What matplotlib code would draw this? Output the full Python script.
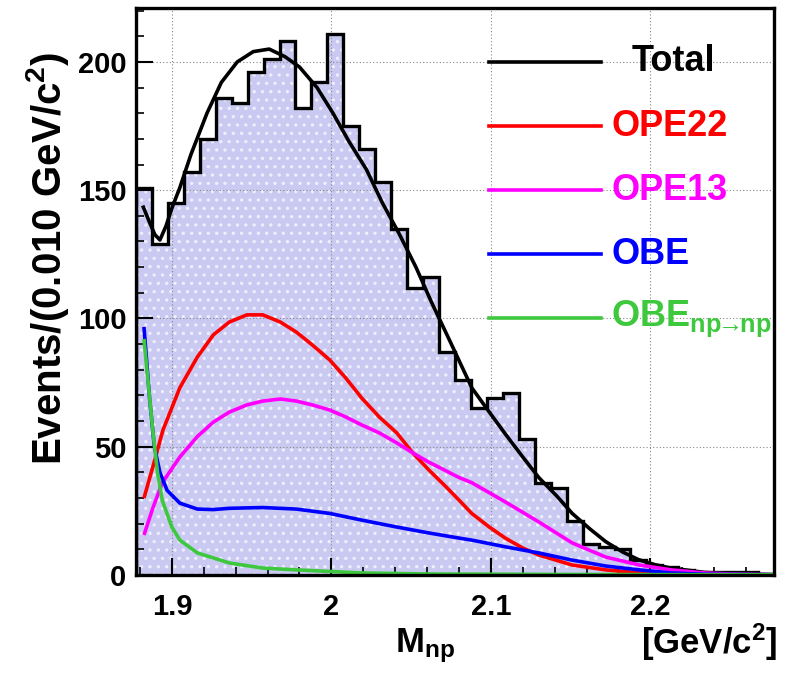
import numpy as np
import matplotlib
matplotlib.use("Agg")
import matplotlib.pyplot as plt

# --------------------------------------------------
# Data
# --------------------------------------------------
bin_lo = 1.8775
bin_width = 0.010
counts = [151, 129, 145, 157, 170, 186, 184, 196, 201, 208,
          182, 192, 211, 175, 166, 153, 135, 112, 116, 87,
          76, 65, 69, 71, 53, 36, 34, 21, 12, 11,
          10, 6, 4, 3, 2, 1, 1, 1, 1, 0]

total_x = [1.8817, 1.8863, 1.8894, 1.8925, 1.8963, 1.900, 1.905, 1.912, 1.917,
           1.922, 1.931, 1.941, 1.951, 1.961, 1.971, 1.980, 1.991, 2.001,
           2.011, 2.022, 2.032, 2.0425, 2.053, 2.063, 2.074, 2.088, 2.099,
           2.109, 2.120, 2.130, 2.141, 2.151, 2.162, 2.172, 2.1825, 2.1925,
           2.203, 2.213, 2.234, 2.250, 2.266, 2.277]
total_y = [144, 137, 132.6, 130.6, 136, 143, 151, 164, 172,
           180, 192, 200, 204, 205, 202, 198, 190, 180,
           169, 158, 145, 133, 120, 106, 91.6, 73, 63.5,
           55, 46, 38, 31, 24, 18, 13, 9, 6,
           4, 2.7, 1, 0.5, 0.3, 0.2]

ope22_x = [1.8825, 1.888, 1.8944, 1.905, 1.916, 1.926, 1.936, 1.947, 1.957,
           1.968, 1.978, 1.988, 1.999, 2.009, 2.019, 2.030, 2.041, 2.051,
           2.061, 2.072, 2.080, 2.088, 2.099, 2.109, 2.120, 2.130, 2.151,
           2.172, 2.193, 2.213, 2.240, 2.277]
ope22_y = [30, 42, 56.5, 73, 85, 93.6, 98.6, 101.4, 101.4,
           98.6, 94.7, 89.7, 83.8, 76.8, 69, 61.6, 55.4, 47.6,
           41, 34.3, 29.2, 24, 18.7, 14.4, 10.5, 7.8, 3.9,
           2, 0.8, 0.3, 0.1, 0.05]

ope13_x = [1.8825, 1.888, 1.894, 1.905, 1.916, 1.926, 1.936, 1.947, 1.957,
           1.968, 1.978, 1.988, 1.999, 2.009, 2.019, 2.030, 2.041, 2.051,
           2.061, 2.0675, 2.080, 2.088, 2.109, 2.130, 2.151, 2.172, 2.193,
           2.213, 2.234, 2.250, 2.277]
ope13_y = [15.6, 26, 36, 46, 54, 59.6, 63.5, 66.3, 67.8,
           68.6, 67.8, 66.3, 64.3, 61.6, 58.5, 55.4, 51.5, 47.6,
           44, 42, 38, 36, 28.5, 20.7, 12.5, 7, 3.9,
           2, 0.8, 0.4, 0.1]

obe_x = [1.8825, 1.886, 1.889, 1.8925, 1.897, 1.905, 1.916, 1.926, 1.936,
         1.957, 1.978, 1.999, 2.019, 2.041, 2.061, 2.080, 2.088, 2.109,
         2.130, 2.151, 2.172, 2.193, 2.213, 2.234, 2.277]
obe_y = [96.7, 69, 50, 40, 33, 28, 25.7, 25.5, 26,
         26.3, 25.7, 24, 21.4, 18.7, 16.4, 14.4, 13.6, 11,
         8.6, 5.8, 3.5, 2, 0.8, 0.3, 0.1]

obenp_x = [1.8825, 1.885, 1.888, 1.891, 1.894, 1.900, 1.905, 1.916, 1.936,
           1.957, 1.978, 2.019, 2.060, 2.150, 2.277]
obenp_y = [92, 76, 56.5, 40, 29, 18.7, 13.6, 8.6, 4.7,
           2.7, 2, 0.8, 0.4, 0.2, 0.1]

legend_labels = ["Total", "OPE22", "OPE13", "OBE",
                 r"OBE$_{\mathrm{np}\!\!\rightarrow\!\!\mathrm{np}}$"]
legend_colors = ["black", "#ff0000", "#ff00ff", "#0000ff", "#3ec83e"]
legend_y = [200, 175, 150, 125, 100]

x_ticks = [1.9, 2.0, 2.1, 2.2]
x_ticklabels = ["1.9", "2", "2.1", "2.2"]
y_ticks = [0, 50, 100, 150, 200]

# --------------------------------------------------
# Style
# --------------------------------------------------
plt.rcParams["font.family"] = ["Liberation Sans", "DejaVu Sans"]
plt.rcParams["font.weight"] = "bold"
plt.rcParams["mathtext.fontset"] = "custom"
plt.rcParams["mathtext.rm"] = "Liberation Sans:bold"
plt.rcParams["mathtext.it"] = "Liberation Sans:bold"
plt.rcParams["mathtext.bf"] = "Liberation Sans:bold"
plt.rcParams["hatch.linewidth"] = 1.2

fig = plt.figure(figsize=(7.87, 6.80), dpi=100)
ax = fig.add_axes([0.1728, 0.1544, 0.8107, 0.8338])

edges = bin_lo + bin_width * np.arange(len(counts) + 1)

# histogram fill with dotted texture, outline on top
ax.stairs(counts, edges, fill=True, facecolor="#c9c9f2",
          edgecolor="#eeeeff", linewidth=0, hatch="..", zorder=1)
ax.stairs(counts, edges, color="black", linewidth=2.4, zorder=2)

curves = [(total_x, total_y, "black"),
          (ope22_x, ope22_y, "#ff0000"),
          (ope13_x, ope13_y, "#ff00ff"),
          (obe_x, obe_y, "#0000ff"),
          (obenp_x, obenp_y, "#3ec83e")]
for xs, ys, c in curves:
    ax.plot(xs, ys, color=c, linewidth=2.6, zorder=4,
            solid_capstyle="butt")

# legend drawn by hand, like the ROOT pave
for i, (lab, c, yy) in enumerate(zip(legend_labels, legend_colors, legend_y)):
    ax.plot([2.0988, 2.1688], [yy, yy], color=c, linewidth=2.6, zorder=4)
    tx = 2.1881 if i == 0 else 2.1756
    ax.text(tx, yy, lab, color=c, fontsize=26, fontweight="bold",
            va="center", ha="left", zorder=5)

ax.set_xlim(edges[0], edges[-1])
ax.set_ylim(0, 221)

ax.set_xticks(x_ticks)
ax.set_xticklabels(x_ticklabels)
ax.set_xticks(np.arange(1.88, 2.28, 0.02), minor=True)
ax.set_yticks(y_ticks)
ax.set_yticks(np.arange(0, 221, 10), minor=True)

ax.grid(True, which="major", color="#888888", linestyle=(0, (1, 2)),
        linewidth=0.8)
ax.set_axisbelow("line")

ax.tick_params(axis="both", which="major", direction="in", length=12,
               width=1.5, top=False, right=False, labelsize=21)
ax.tick_params(axis="both", which="minor", direction="in", length=6,
               width=1.2, top=False, right=False)
ax.tick_params(axis="x", which="major", pad=13)
ax.tick_params(axis="y", which="major", pad=7)
for lab in ax.get_xticklabels() + ax.get_yticklabels():
    lab.set_fontweight("bold")

for sp in ax.spines.values():
    sp.set_linewidth(2.4)
    sp.set_zorder(6)

fig.text(0.060, 0.620, r"Events/(0.010 GeV/c$^{2}$)", rotation=90,
         fontsize=29, fontweight="bold", ha="center", va="center")
fig.text(0.502, 0.050, r"M$_{\mathrm{np}}$", fontsize=25,
         fontweight="bold", ha="left", va="center")
fig.text(0.988, 0.055, r"[GeV/c$^{2}$]", fontsize=25,
         fontweight="bold", ha="right", va="center")

fig.savefig("out.png", dpi=100, facecolor="white")
